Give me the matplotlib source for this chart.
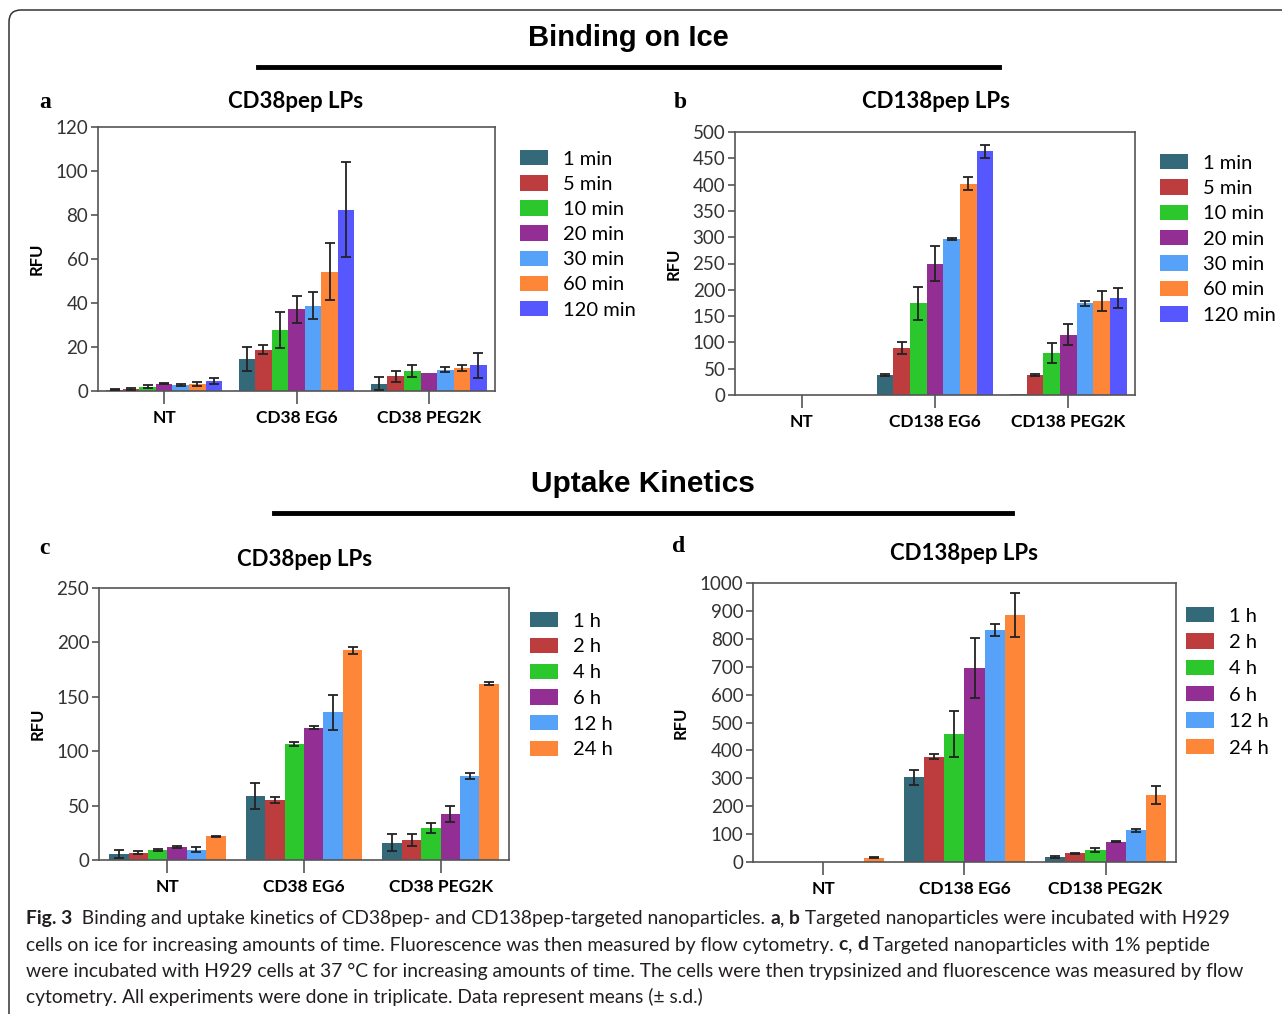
import matplotlib.pyplot as plt
import numpy as np
from matplotlib.patches import FancyBboxPatch
from matplotlib.lines import Line2D
from matplotlib.font_manager import FontProperties

W, H = 1282, 1014

# ---- data ----
groups_38 = ['NT', 'CD38 EG6', 'CD38 PEG2K']
groups_138 = ['NT', 'CD138 EG6', 'CD138 PEG2K']
ice_times = ['1 min', '5 min', '10 min', '20 min', '30 min', '60 min', '120 min']
uptake_times = ['1 h', '2 h', '4 h', '6 h', '12 h', '24 h']

# rows = groups, columns = time points
a_mean = [[0.5, 1.0, 2.0, 3.3, 2.6, 3.3, 4.6],
          [14.6, 18.8, 27.7, 37.1, 38.8, 54.3, 82.4],
          [3.3, 6.7, 9.1, 8.2, 9.7, 10.3, 11.7]]
a_sd = [[0.2, 0.5, 0.8, 0.3, 0.4, 0.8, 1.4],
        [5.3, 2.0, 8.0, 6.0, 6.2, 13.0, 21.7],
        [3.0, 2.4, 2.7, 0.0, 1.2, 1.4, 5.8]]

b_mean = [[0, 0, 0, 0, 0, 0, 0],
          [38, 89, 174, 250, 296, 402, 463],
          [2, 38, 79, 115, 174, 178, 185]]
b_sd = [[0, 0, 0, 0, 0, 0, 0],
        [2, 11, 32, 33, 2, 12, 12],
        [0, 2, 19, 20, 4.5, 19, 19]]

c_mean = [[5.5, 6.7, 8.9, 11.7, 9.5, 22],
          [59.2, 55.2, 106.7, 121.5, 135.6, 192.6],
          [16, 18.7, 29.4, 42.3, 77.3, 162]]
c_sd = [[4, 1.5, 1, 1, 2.5, 0.5],
        [12, 3, 1.5, 1.5, 16.4, 3],
        [7.5, 5.4, 5, 7, 3, 1.4]]

d_mean = [[0, 0, 0, 0, 0, 15],
          [303, 378, 459, 696, 831, 885],
          [17, 31, 42, 72, 113, 240]]
d_sd = [[0, 0, 0, 0, 0, 2],
        [26, 8, 83, 108, 22, 80],
        [3, 3, 7, 2, 6, 31]]

colors = ['#34697a', '#bd3d3f', '#2cc72c', '#932f94', '#55a2f8', '#fe8639', '#5657fe']

cap_lines = [
    [("Fig. 3", True), ("  Binding and uptake kinetics of CD38pep- and CD138pep-targeted nanoparticles. ", False),
     ("a", True), (", ", False), ("b", True), (" Targeted nanoparticles were incubated with H929", False)],
    [("cells on ice for increasing amounts of time. Fluorescence was then measured by flow cytometry. ", False),
     ("c", True), (", ", False), ("d", True), (" Targeted nanoparticles with 1% peptide", False)],
    [("were incubated with H929 cells at 37 \u00b0C for increasing amounts of time. The cells were then "
      "trypsinized and fluorescence was measured by flow", False)],
    [("cytometry. All experiments were done in triplicate. Data represent means (\u00b1 s.d.)", False)],
]

UI = 'Lato'
fig = plt.figure(figsize=(W / 100, H / 100), dpi=100)


def box(l, t, r, b):
    return [l / W, 1 - b / H, (r - l) / W, (b - t) / H]


def ftext(x, y, s, **kw):
    return fig.text(x / W, 1 - y / H, s, **kw)


def bar_panel(rect, groups, labels, mean, sd, ymax, ystep, bar_w, legend_xy, spacing, title, title_xy):
    ax = fig.add_axes(box(*rect))
    x = np.arange(len(groups))
    n = len(labels)
    for i in range(n):
        off = (i - (n - 1) / 2) * bar_w
        vals = np.array([row[i] for row in mean], float)
        errs = np.array([row[i] for row in sd], float)
        ax.bar(x + off, vals, bar_w, color=colors[i], label=labels[i], zorder=2, linewidth=0)
        m = errs > 0
        ax.errorbar((x + off)[m], vals[m], yerr=errs[m], fmt='none', ecolor='#222222',
                    elinewidth=1.3, capsize=3.3, capthick=1.3, zorder=3)
    ax.set_xlim(-0.5, len(groups) - 0.5)
    ax.set_ylim(0, ymax)
    ax.set_yticks(np.arange(0, ymax + 1, ystep))
    ax.set_xticks(x)
    ax.set_xticklabels(groups, fontsize=12.5, fontweight='bold', family=UI)
    for t in ax.get_yticklabels():
        t.set_fontsize(13.5)
        t.set_family(UI)
        t.set_color('#333333')
    for s in ax.spines.values():
        s.set_color('#555555')
        s.set_linewidth(1.2)
    ax.tick_params(axis='y', length=5, width=1.2, color='#555555', pad=2)
    ax.tick_params(axis='x', length=9, width=1.2, color='#555555', pad=5)
    ax.set_ylabel('RFU', fontsize=12, fontweight='bold', family=UI, labelpad=8)
    h, l = ax.get_legend_handles_labels()
    fig.legend(h, l, loc='upper left', bbox_to_anchor=(legend_xy[0] / W, 1 - legend_xy[1] / H),
               frameon=False, prop=FontProperties(family=UI, size=14.5), handlelength=1.4,
               handleheight=0.8, labelspacing=spacing, handletextpad=0.75, borderpad=0, borderaxespad=0)
    ftext(title_xy[0], title_xy[1], title, fontsize=16, fontweight='bold', family=UI,
          ha='center', va='center')
    return ax


bar_panel((98, 127, 495, 391), groups_38, ice_times, a_mean, a_sd, 120, 20, 0.125,
          (520, 150), 0.37, 'CD38pep LPs', (296, 102))
bar_panel((735, 132, 1135, 395), groups_138, ice_times, b_mean, b_sd, 500, 50, 0.125,
          (1160, 154), 0.38, 'CD138pep LPs', (936, 102))
bar_panel((99, 588, 509, 860), groups_38, uptake_times, c_mean, c_sd, 250, 50, 0.142,
          (530, 612), 0.40, 'CD38pep LPs', (305, 560))
bar_panel((753, 583, 1176, 862), groups_138, uptake_times, d_mean, d_sd, 1000, 100, 0.142,
          (1186, 607), 0.43, 'CD138pep LPs', (964, 553))

# panel letters
for s, x, y in [('a', 45, 103), ('b', 680, 103), ('c', 44, 548), ('d', 679, 547)]:
    ftext(x, y, s, fontsize=17, fontweight='bold', family='Liberation Serif', ha='center', va='center')

# section headings
ftext(628, 38, 'Binding on Ice', fontsize=21, fontweight='bold', family='Liberation Sans',
      ha='center', va='center')
fig.add_artist(Line2D([258 / W, 999 / W], [1 - 67 / H] * 2, lw=3.5, color='black'))
ftext(643, 484, 'Uptake Kinetics', fontsize=21.5, fontweight='bold', family='Liberation Sans',
      ha='center', va='center')
fig.add_artist(Line2D([274 / W, 1012 / W], [1 - 513 / H] * 2, lw=3.5, color='black'))

# outer frame (rounded top-left corner)
fig.add_artist(FancyBboxPatch((9, -60), 1400, H - 10 + 60, boxstyle='round,pad=0,rounding_size=12',
                              transform=None, fill=False, edgecolor='#333333', lw=1.1))

# caption, fitted to the text width
renderer = fig.canvas.get_renderer()


def seg_width(s, size, bold):
    fp = FontProperties(family=UI, size=size, weight='bold' if bold else 'normal')
    w1 = renderer.get_text_width_height_descent('|' + s + '|', fp, ismath=False)[0]
    w0 = renderer.get_text_width_height_descent('||', fp, ismath=False)[0]
    return w1 - w0


base = 12
full = sum(seg_width(s, base, b) for s, b in cap_lines[2])
cap_size = base * (1241 - 26) / full

for k, line in enumerate(cap_lines):
    x = 26
    y = 924 + k * 26.5
    for s, b in line:
        ftext(x, y, s, fontsize=cap_size, fontweight='bold' if b else 'normal', family=UI,
              va='baseline', ha='left', color='#231f20')
        x += seg_width(s, cap_size, b)

fig.savefig('out.png', dpi=100)
